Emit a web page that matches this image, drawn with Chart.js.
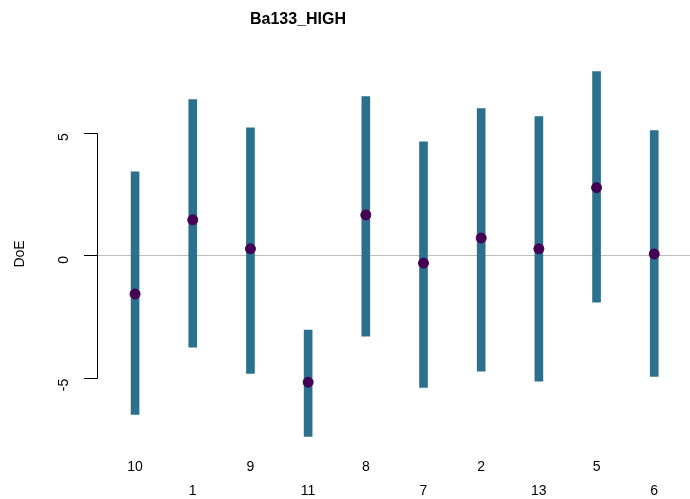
<!DOCTYPE html>
<html>
<head>
<meta charset="utf-8">
<script src="https://cdn.jsdelivr.net/npm/chart.js@4"></script>
<style>
  body { margin: 0; background: #fff; }
  canvas { display: block; }
</style>
</head>
<body>
<canvas id="doeChart" width="690" height="499"></canvas>
<script>
// --- Datos ---
const categories = ['10', '1', '9', '11', '8', '7', '2', '13', '5', '6'];
const centers = [-1.55, 1.47, 0.29, -5.14, 1.67, -0.29, 0.73, 0.29, 2.78, 0.08];
const lowers  = [-6.45, -3.71, -4.78, -7.35, -3.27, -5.35, -4.69, -5.10, -1.88, -4.90];
const uppers  = [3.43, 6.37, 5.22, -3.02, 6.49, 4.65, 6.00, 5.67, 7.51, 5.10];
const yTicks = [-5, 0, 5];

const barColor = '#2D708E';
const pointColor = '#440154';
const font = "'Liberation Sans', Arial, sans-serif";

// Título y línea del eje y (estilo R)
const rStylePlugin = {
    id: 'rStyle',
    afterDraw(chart) {
        const { ctx } = chart;
        const y = chart.scales.y;
        ctx.save();
        ctx.strokeStyle = '#000';
        ctx.lineWidth = 1;
        ctx.beginPath();
        const x0 = Math.round(chart.chartArea.left) + 0.5;
        ctx.moveTo(x0, y.getPixelForValue(yTicks[yTicks.length - 1]));
        ctx.lineTo(x0, y.getPixelForValue(yTicks[0]));
        ctx.stroke();

        ctx.font = `bold 16px ${font}`;
        ctx.fillStyle = '#000';
        ctx.textAlign = 'center';
        ctx.textBaseline = 'middle';
        ctx.fillText('Ba133_HIGH', 298, 20);
        ctx.restore();
    }
};

new Chart(document.getElementById('doeChart').getContext('2d'), {
    type: 'bar',
    data: {
        datasets: [{
            label: 'Intervalo',
            data: categories.map((c, i) => ({ x: i + 1, y: [lowers[i], uppers[i]] })),
            backgroundColor: barColor,
            borderWidth: 0,
            barThickness: 8,
            order: 2
        }, {
            type: 'scatter',
            label: 'DoE',
            data: categories.map((c, i) => ({ x: i + 1, y: centers[i] })),
            backgroundColor: pointColor,
            borderColor: pointColor,
            pointRadius: 5,
            pointHoverRadius: 5,
            order: 1
        }]
    },
    options: {
        responsive: false,
        animation: false,
        layout: { autoPadding: false, padding: { top: 57, right: 0, left: 0, bottom: 0 } },
        scales: {
            x: {
                type: 'linear',
                offset: false,
                min: 0.34,
                max: 10.62,
                afterBuildTicks: s => { s.ticks = categories.map((c, i) => ({ value: i + 1 })); },
                afterFit: s => { s.height = 48; s.paddingLeft = 0; s.paddingRight = 0; },
                grid: { display: false, drawTicks: false },
                border: { display: false },
                ticks: {
                    autoSkip: false,
                    maxRotation: 0,
                    padding: 4,
                    color: '#000',
                    font: { family: font, size: 14, lineHeight: 1.7 },
                    callback: (v) => {
                        const i = Math.round(v) - 1;
                        return i % 2 === 0 ? categories[i] : ['', categories[i]];
                    }
                }
            },
            y: {
                min: -7.94,
                max: 8.1,
                afterBuildTicks: s => { s.ticks = yTicks.map(v => ({ value: v })); },
                afterFit: s => { s.width = 97; },
                border: { display: false },
                grid: {
                    color: c => (c.tick && c.tick.value === 0 ? '#BEBEBE' : 'rgba(0,0,0,0)'),
                    tickColor: '#000',
                    tickLength: 13,
                    lineWidth: 1
                },
                ticks: {
                    minRotation: 90,
                    maxRotation: 90,
                    padding: 20,
                    color: '#000',
                    font: { family: font, size: 14 }
                },
                title: {
                    display: true,
                    text: 'DoE',
                    color: '#000',
                    font: { family: font, size: 14 },
                    padding: { top: 12, bottom: 0 }
                }
            }
        },
        plugins: {
            legend: { display: false },
            tooltip: { enabled: false }
        }
    },
    plugins: [rStylePlugin]
});
</script>
</body>
</html>
